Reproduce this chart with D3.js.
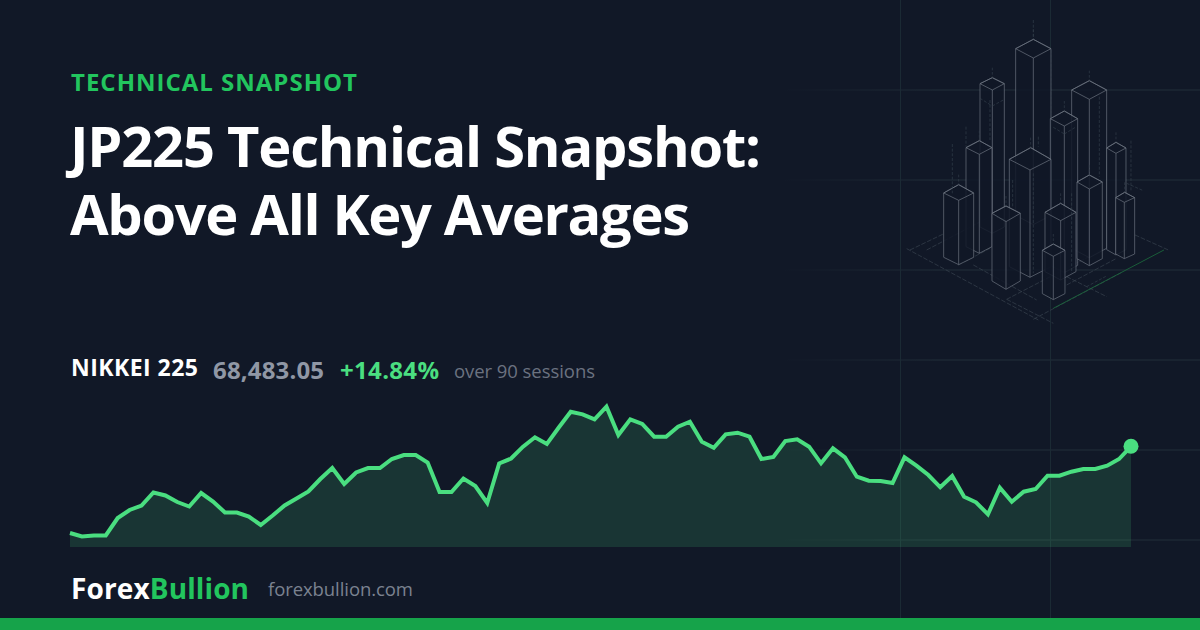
<!DOCTYPE html>
<html>
<head>
<meta charset="utf-8">
<script src="https://cdnjs.cloudflare.com/ajax/libs/d3/7.8.5/d3.min.js"></script>
<style>
  html, body { margin: 0; padding: 0; background: #111827; }
  svg { display: block; }
  text { font-family: "Open Sans", sans-serif; }
</style>
</head>
<body>
<div id="chart"></div>
<script>
// closing prices, 90 sessions
var closes = [
  59633, 59276, 59378, 59378, 61164, 61981, 62440, 63767, 63461, 62797,
  62338, 63716, 62849, 61726, 61726, 61317, 60450, 61419, 62440, 63155,
  63869, 65145, 66268, 64635, 65809, 66268, 66268, 67187, 67595, 67595,
  66830, 63818, 63818, 65196, 64431, 62695, 66728, 67238, 68443, 69402,
  68718, 70402, 72015, 71750, 71240, 72526, 69637, 71240, 70760, 69463,
  69463, 70484, 70995, 68953, 68340, 69708, 69872, 69463, 67187, 67391,
  69024, 69198, 68443, 66748, 68279, 67360, 65380, 64972, 64941, 64737,
  67360, 66503, 65554, 64298, 65452, 63338, 62767, 61542, 64257, 62828,
  63849, 64125, 65482, 65482, 65891, 66166, 66166, 66503, 67187, 68483
];
var priceFloor = 58204;

var eyebrow = 'TECHNICAL SNAPSHOT';
var titleLines = ['JP225 Technical Snapshot:', 'Above All Key Averages'];
var indexName = 'NIKKEI 225';
var lastPrice = '68,483.05';
var changePct = '+14.84%';
var sessionsNote = 'over 90 sessions';
var brandA = 'Forex';
var brandB = 'Bullion';
var siteName = 'forexbullion.com';

// background sketch grid
var gridX = [900, 1050];
var gridY = [90, 180, 270, 360, 450, 540];

// sketch towers, back to front
var towers = [
  { l: [377, 86], b: [430, 58], r: [483, 86], f: [430, 114], h: 500 },
  { l: [545, 210], b: [598, 182], r: [650, 210], f: [598, 238], h: 475 },
  { l: [270, 191], b: [307, 173], r: [343, 191], f: [307, 210], h: 430 },
  { l: [650, 384], b: [678, 367], r: [708, 384], f: [678, 400], h: 305 },
  { l: [481, 296], b: [523, 273], r: [563, 296], f: [523, 318], h: 440 },
  { l: [228, 383], b: [268, 362], r: [306, 383], f: [268, 403], h: 297 },
  { l: [358, 418], b: [422, 383], r: [483, 418], f: [420, 450], h: 322 },
  { l: [465, 577], b: [512, 550], r: [558, 577], f: [512, 602], h: 178 },
  { l: [561, 486], b: [598, 465], r: [637, 486], f: [598, 507], h: 230 },
  { l: [161, 519], b: [206, 494], r: [251, 519], f: [206, 541], h: 193 },
  { l: [677, 533], b: [704, 517], r: [734, 533], f: [703, 547], h: 169 },
  { l: [306, 580], b: [348, 558], r: [391, 580], f: [348, 605], h: 203 },
  { l: [457, 691], b: [490, 672], r: [525, 691], f: [490, 709], h: 130 }
];
var groundLines = [
  [[50, 686], [445, 900]], [[430, 898], [700, 755]], [[350, 838], [645, 685]],
  [[110, 690], [300, 590]], [[60, 690], [160, 642]], [[250, 735], [440, 840]],
  [[205, 735], [300, 685]], [[735, 645], [835, 690]], [[530, 795], [680, 715]],
  [[350, 838], [490, 910]], [[530, 770], [650, 830]]
];
var dashLines = [
  [[187, 372], [187, 520]], [[228, 320], [228, 380]], [[430, 0], [430, 55]],
  [[483, 90], [483, 300]], [[628, 230], [628, 470]], [[723, 362], [723, 515]],
  [[545, 520], [545, 760]], [[430, 460], [430, 760]], [[445, 350], [445, 380]],
  [[368, 480], [368, 560]], [[300, 240], [300, 360]], [[710, 490], [760, 512]],
  [[270, 235], [307, 258]], [[307, 258], [340, 240]], [[490, 322], [523, 342]],
  [[523, 342], [556, 322]], [[590, 800], [650, 768]], [[320, 590], [348, 602]]
];

var width = 1200,
    height = 630,
    bg = '#111827',
    green = '#22c55e',
    lineGreen = '#4ade80';

var svg = d3.select('#chart')
  .append('svg')
    .attr('width', width)
    .attr('height', height);

svg.append('rect')
  .attr('width', width)
  .attr('height', height)
  .attr('fill', bg);

// grid fades out to the left
var fade = svg.append('defs').append('linearGradient')
  .attr('id', 'fade')
  .attr('gradientUnits', 'userSpaceOnUse')
  .attr('x1', 780).attr('x2', 940).attr('y1', 0).attr('y2', 0);
fade.append('stop').attr('offset', 0).attr('stop-color', '#2b3d45').attr('stop-opacity', 0);
fade.append('stop').attr('offset', 1).attr('stop-color', '#2b3d45').attr('stop-opacity', 0.6);

svg.selectAll('.gridh')
  .data(gridY)
  .enter().append('line')
    .attr('x1', 780).attr('x2', width)
    .attr('y1', function(d) { return d; })
    .attr('y2', function(d) { return d + 0.01; })
    .attr('stroke', 'url(#fade)');

svg.selectAll('.gridv')
  .data(gridX)
  .enter().append('line')
    .attr('x1', function(d) { return d + 0.5; })
    .attr('x2', function(d) { return d + 0.5; })
    .attr('y1', 0).attr('y2', height)
    .attr('stroke', '#1b2a34');

// towers are measured in a 3x crop of the corner
var sketch = svg.append('g')
  .attr('transform', 'translate(890,20) scale(0.3333)');

sketch.selectAll('.ground')
  .data(groundLines)
  .enter().append('line')
    .attr('x1', function(d) { return d[0][0]; })
    .attr('y1', function(d) { return d[0][1]; })
    .attr('x2', function(d) { return d[1][0]; })
    .attr('y2', function(d) { return d[1][1]; })
    .attr('stroke', '#3a4450')
    .attr('stroke-width', 2)
    .attr('stroke-dasharray', '14 5');

sketch.append('line')
  .attr('x1', 490).attr('y1', 865).attr('x2', 822).attr('y2', 690)
  .attr('stroke', '#1c6b3d')
  .attr('stroke-width', 2.5);

function pts(list) {
  return list.map(function(p) { return p.join(','); }).join(' ');
}

towers.forEach(function(t) {
  var down = function(p) { return [p[0], p[1] + t.h]; };
  var g = sketch.append('g')
    .attr('stroke', '#6f7784')
    .attr('stroke-width', 2)
    .attr('stroke-linejoin', 'round');
  g.append('polygon')
    .attr('points', pts([t.l, t.b, t.r, down(t.r), down(t.f), down(t.l)]))
    .attr('fill', bg)
    .attr('fill-opacity', 0.85);
  g.append('polygon')
    .attr('points', pts([t.l, t.f, t.r, t.b]))
    .attr('fill', 'none');
  g.append('line')
    .attr('x1', t.f[0]).attr('y1', t.f[1])
    .attr('x2', t.f[0]).attr('y2', t.f[1] + t.h);
  g.append('line')
    .attr('x1', t.b[0]).attr('y1', t.b[1] - 30)
    .attr('x2', t.b[0]).attr('y2', t.b[1])
    .attr('stroke', '#333e4a')
    .attr('stroke-dasharray', '8 5');
});

// dashed construction lines
sketch.selectAll('.dash')
  .data(dashLines)
  .enter().append('line')
    .attr('x1', function(d) { return d[0][0]; })
    .attr('y1', function(d) { return d[0][1]; })
    .attr('x2', function(d) { return d[1][0]; })
    .attr('y2', function(d) { return d[1][1]; })
    .attr('stroke', '#343f4b')
    .attr('stroke-width', 2)
    .attr('stroke-dasharray', '9 5');

// headings
svg.append('text')
  .attr('x', 71).attr('y', 91)
  .attr('font-size', 24).attr('font-weight', 700)
  .attr('textLength', 286)
  .attr('fill', green)
  .text(eyebrow);

var titleWidths = [691, 620];
svg.selectAll('.title')
  .data(titleLines)
  .enter().append('text')
    .attr('x', 70)
    .attr('y', function(d, i) { return 167 + i * 68; })
    .attr('font-size', 56).attr('font-weight', 700)
    .attr('textLength', function(d, i) { return titleWidths[i]; })
    .attr('fill', '#ffffff')
    .text(function(d) { return d; });

// stat row
svg.append('text').attr('x', 71).attr('y', 376)
  .attr('font-size', 23).attr('font-weight', 700).attr('textLength', 127)
  .attr('fill', '#ffffff').text(indexName);
svg.append('text').attr('x', 213).attr('y', 379)
  .attr('font-size', 24).attr('font-weight', 700).attr('textLength', 111)
  .attr('fill', '#9097a5').text(lastPrice);
svg.append('text').attr('x', 340).attr('y', 379)
  .attr('font-size', 24).attr('font-weight', 700).attr('textLength', 99)
  .attr('fill', lineGreen).text(changePct);
svg.append('text').attr('x', 454).attr('y', 378)
  .attr('font-size', 18.5).attr('textLength', 141)
  .attr('fill', '#6b7280').text(sessionsNote);

// price chart
var x = d3.scaleLinear()
  .domain([0, closes.length - 1])
  .range([70, 1131]);

var y = d3.scaleLinear()
  .domain([priceFloor, d3.max(closes)])
  .range([547, 406.7]);

var area = d3.area()
  .x(function(d, i) { return x(i); })
  .y0(y(priceFloor))
  .y1(function(d) { return y(d); });

var line = d3.line()
  .x(function(d, i) { return x(i); })
  .y(function(d) { return y(d); });

svg.append('path')
  .datum(closes)
  .attr('d', area)
  .attr('fill', lineGreen)
  .attr('fill-opacity', 0.15);

svg.append('path')
  .datum(closes)
  .attr('d', line)
  .attr('fill', 'none')
  .attr('stroke', lineGreen)
  .attr('stroke-width', 4);

svg.append('circle')
  .attr('cx', x(closes.length - 1))
  .attr('cy', y(closes[closes.length - 1]))
  .attr('r', 7.5)
  .attr('fill', lineGreen);

// footer
var brand = svg.append('text')
  .attr('x', 71).attr('y', 599)
  .attr('font-size', 28).attr('font-weight', 700)
  .attr('textLength', 178)
  .attr('fill', '#ffffff');
brand.append('tspan').text(brandA);
brand.append('tspan').attr('fill', green).text(brandB);

svg.append('text').attr('x', 268).attr('y', 596)
  .attr('font-size', 18.5).attr('textLength', 145)
  .attr('fill', '#7b8290').text(siteName);

svg.append('rect')
  .attr('x', 0).attr('y', 618)
  .attr('width', width).attr('height', 12)
  .attr('fill', '#16a34a');
</script>
</body>
</html>
